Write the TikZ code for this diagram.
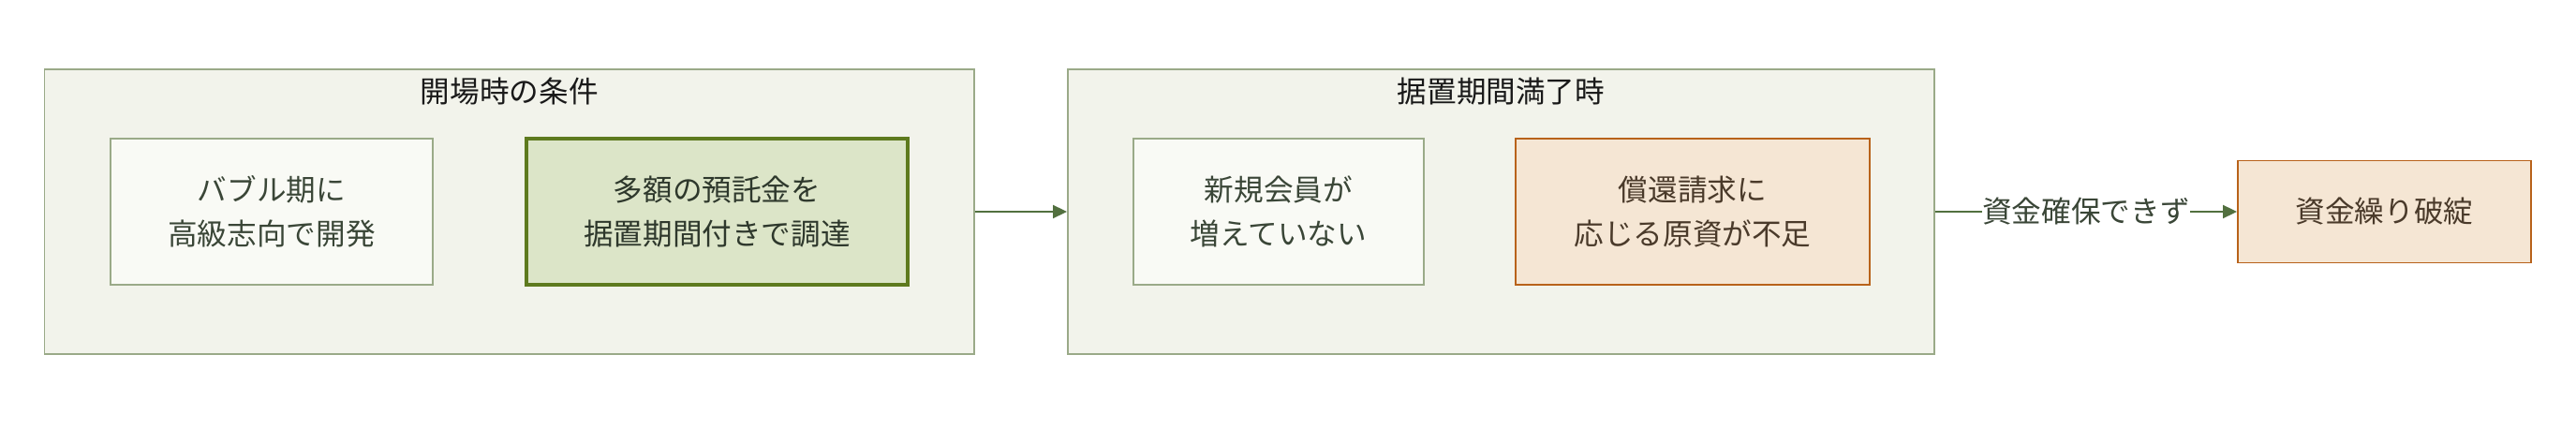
\documentclass[tikz,border=0pt]{standalone}
\usepackage{fontspec}
\usepackage{tikz}
\usepackage{xcolor}
\usetikzlibrary{positioning, arrows.meta}
\setmainfont{Noto Sans CJK JP}
\definecolor{grpfill}{RGB}{242, 243, 235}
\definecolor{grpdraw}{RGB}{154, 170, 136}
\definecolor{palefill}{RGB}{249, 250, 245}
\definecolor{keyfill}{RGB}{220, 229, 200}
\definecolor{keydraw}{RGB}{94, 122, 30}
\definecolor{warnfill}{RGB}{245, 230, 212}
\definecolor{warndraw}{RGB}{184, 98, 26}
\definecolor{flowgreen}{RGB}{82, 112, 63}
\definecolor{txtgreen}{RGB}{58, 70, 55}
\definecolor{txtbrown}{RGB}{74, 58, 42}
\tikzset{
    grpbox/.style={rectangle, draw=grpdraw, fill=grpfill, line width=1.1pt, minimum height=6.08cm},
    grptitle/.style={font=\fontsize{18}{27}\selectfont, text=black!90},
    stepbox/.style={rectangle, draw, line width=1.1pt, minimum height=3.12cm, align=center,
        font=\fontsize{18}{27}\selectfont},
    palebox/.style={stepbox, fill=palefill, draw=grpdraw, text=txtgreen},
    keybox/.style={stepbox, fill=keyfill, draw=keydraw, text=txtgreen!80!black, line width=2.3pt},
    warnbox/.style={stepbox, fill=warnfill, draw=warndraw, text=txtbrown},
    flow/.style={draw=flowgreen, line width=1.1pt, -{Triangle[length=0.3cm, width=0.28cm]}},
    edgelabel/.style={fill=white, inner xsep=0pt, text=txtgreen, font=\fontsize{18}{27}\selectfont}
}
\begin{document}
\begin{tikzpicture}
                    \useasboundingbox (0,0) rectangle (55,-9.16);
                    % conditions at opening
                    \node[grpbox, minimum width=19.85cm] (cond) at (10.875,-4.52) {};
                    \node[grptitle] (condtitle) at (10.875,-1.96) {開場時の条件};
                    \node[palebox, minimum width=6.88cm] (bubble) at (5.8,-4.52) {バブル期に\\高級志向で開発};
                    \node[keybox, minimum width=8.14cm] (deposit) at (15.31,-4.52) {多額の預託金を\\据置期間付きで調達};
                    % end of deferral period
                    \node[grpbox, minimum width=18.5cm] (expiry) at (32.05,-4.52) {};
                    \node[grptitle] (expirytitle) at (32.05,-1.96) {据置期間満了時};
                    \node[palebox, minimum width=6.2cm] (members) at (27.3,-4.52) {新規会員が\\増えていない};
                    \node[warnbox, minimum width=7.56cm] (refund) at (36.14,-4.52) {償還請求に\\応じる原資が不足};
                    % outcome
                    \node[warnbox, minimum width=6.26cm, minimum height=2.18cm] (collapse) at (50.91,-4.52) {資金繰り破綻};
                    
                    \draw[flow] (cond) -- (expiry);
                    \draw[flow] (expiry) -- node[edgelabel] {資金確保できず} (collapse);
                \end{tikzpicture}
\end{document}
